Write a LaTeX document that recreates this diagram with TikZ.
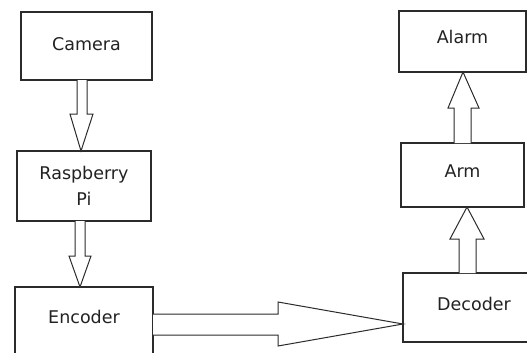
\documentclass[tikz,border=0pt]{standalone}
\usepackage{fontspec}
\setmainfont{DejaVu Sans}
\usetikzlibrary{calc}
\definecolor{ln}{HTML}{2B2B2B}
\definecolor{tx}{HTML}{222222}
\begin{document}
\begin{tikzpicture}[x=1pt,y=-1pt,
  box/.style={draw=ln,line width=1.2pt,outer sep=0pt,inner sep=0pt,
    font=\fontsize{17.5}{26}\selectfont,text=tx,align=center,
    text height=13pt,text depth=8pt},
  barrow/.style={draw=ln,line width=1pt,line join=miter,fill=white}]
\useasboundingbox (0,0) rectangle (527,353);
\node[box,minimum width=131pt,minimum height=68pt,text depth=4pt] (cam) at (86.5,46) {Camera};
\node[box,minimum width=134pt,minimum height=70pt,text height=,text depth=] (rpi) at (84,186) {Raspberry\\Pi};
\node[box,minimum width=138pt,minimum height=70pt,text depth=10pt] (enc) at (84,322) {Encoder};
\node[box,minimum width=142pt,minimum height=69pt,text depth=8pt] (dec) at (474,307.5) {Decoder};
\node[box,minimum width=123pt,minimum height=64pt,text depth=8pt] (arm) at (462.5,175) {Arm};
\node[box,minimum width=127pt,minimum height=61pt,text depth=8pt] (alarm) at (462.5,41.5) {Alarm};
% Camera -> Raspberry Pi
\draw[barrow] ($(cam.south)+(-9.5,0)$) -- ($(cam.south)+(-9.5,34)$) -- ($(cam.south)+(-16.5,34)$)
  -- ($(rpi.north)+(-3,0)$) -- ($(cam.south)+(6.5,34)$) -- ($(cam.south)+(0.5,34)$) -- ($(cam.south)+(0.5,0)$);
% Raspberry Pi -> Encoder
\draw[barrow] ($(rpi.south)+(-9,0)$) -- ($(rpi.south)+(-9,35)$) -- ($(rpi.south)+(-15,35)$)
  -- ($(enc.north)+(-4,0)$) -- ($(rpi.south)+(7,35)$) -- ($(rpi.south)+(1,35)$) -- ($(rpi.south)+(1,0)$);
% Encoder -> Decoder
\draw[barrow] ($(enc.north east)+(0,27)$) -- ($(enc.north east)+(125,27)$) -- ($(enc.north east)+(125,15)$)
  -- ($(dec.west)+(0,16.5)$) -- ($(enc.north east)+(125,59)$) -- ($(enc.north east)+(125,48)$) -- ($(enc.north east)+(0,48)$);
% Decoder -> Arm
\draw[barrow] ($(dec.north)+(-15,0)$) -- ($(dec.north)+(-15,-34)$) -- ($(dec.north)+(-24,-34)$)
  -- ($(arm.south)+(4.5,0)$) -- ($(dec.north)+(10,-34)$) -- ($(dec.north)+(2,-34)$) -- ($(dec.north)+(2,0)$);
% Arm -> Alarm
\draw[barrow] ($(arm.north)+(-8.5,0)$) -- ($(arm.north)+(-8.5,-35)$) -- ($(arm.north)+(-14.5,-35)$)
  -- ($(alarm.south)+(0.5,0)$) -- ($(arm.north)+(16.5,-35)$) -- ($(arm.north)+(8.5,-35)$) -- ($(arm.north)+(8.5,0)$);
\end{tikzpicture}
\end{document}
